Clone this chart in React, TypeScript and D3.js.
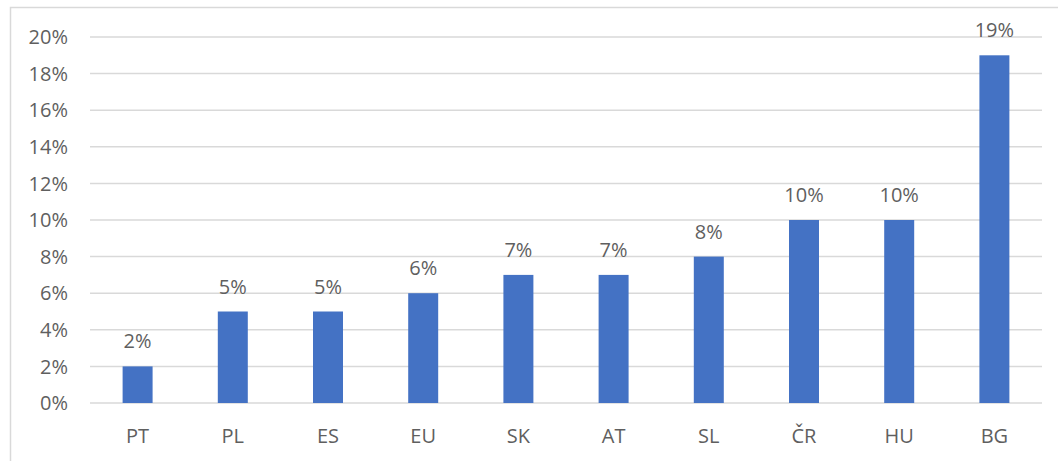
import React from "react";
import * as d3 from "d3";

const categories: string[] = ["PT", "PL", "ES", "EU", "SK", "AT", "SL", "ČR", "HU", "BG"];
const values: number[] = [0.02, 0.05, 0.05, 0.06, 0.07, 0.07, 0.08, 0.10, 0.10, 0.19];
const yTicks: number[] = [0, 0.02, 0.04, 0.06, 0.08, 0.1, 0.12, 0.14, 0.16, 0.18, 0.2];

const W = 1058;
const H = 461;
const FONT = "'Open Sans', 'Liberation Sans', sans-serif";
const TEXT = "#5f5f5f";

export default function App() {
  const x = d3
    .scaleBand<string>()
    .domain(categories)
    .range([90, 1042])
    .paddingInner(0.685)
    .paddingOuter(0.3425);
  const y = d3.scaleLinear().domain([0, 0.2]).range([403, 37]);
  const fmt = d3.format(".0%");

  return (
    <svg
      width={W}
      height={H}
      style={{ position: "absolute", left: 0, top: 0, display: "block", background: "#fff" }}
    >
      <rect x={0} y={0} width={W} height={H} fill="#fff" />
      <rect x={10.5} y={7.5} width={W + 10} height={H + 10} fill="none" stroke="#d9d9d9" strokeWidth={1.5} />
      {yTicks.map((t) => (
        <g key={t}>
          <line x1={90} x2={1042} y1={y(t)} y2={y(t)} stroke="#d9d9d9" strokeWidth={1.5} />
          <text
            x={68}
            y={y(t)}
            dy="0.36em"
            textAnchor="end"
            fontFamily={FONT}
            fontSize={20}
            fill={TEXT}
          >
            {fmt(t)}
          </text>
        </g>
      ))}
      {categories.map((c, i) => {
        const v = values[i];
        const bx = x(c) as number;
        const bw = x.bandwidth();
        return (
          <g key={c}>
            <rect x={bx} y={y(v)} width={bw} height={y(0) - y(v)} fill="#4472C4" />
            <text
              x={bx + bw / 2}
              y={y(v) - 18}
              textAnchor="middle"
              fontFamily={FONT}
              fontSize={20}
              fill={TEXT}
            >
              {fmt(v)}
            </text>
            <text
              x={bx + bw / 2}
              y={443}
              textAnchor="middle"
              fontFamily={FONT}
              fontSize={20}
              fill={TEXT}
            >
              {c}
            </text>
          </g>
        );
      })}
    </svg>
  );
}
